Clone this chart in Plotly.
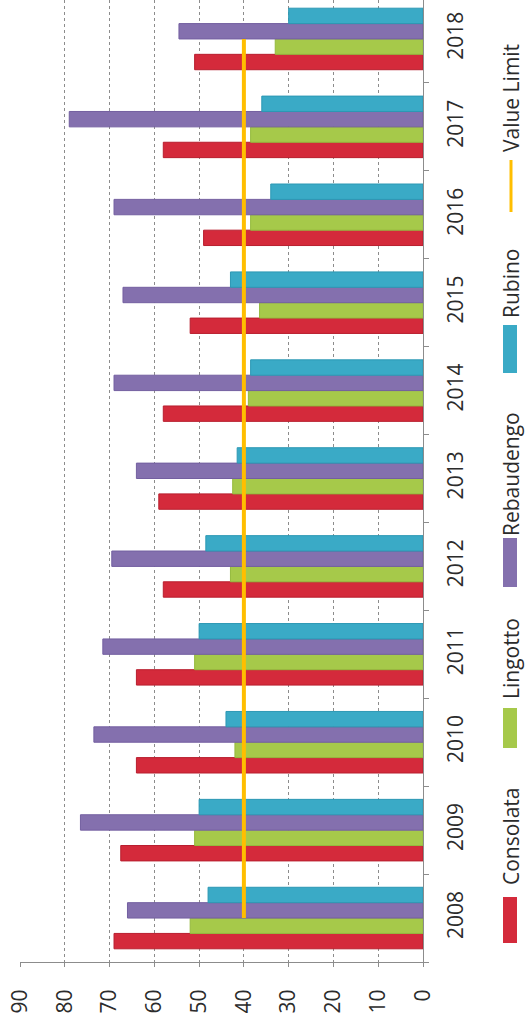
import plotly.graph_objects as go

years = ["2008", "2009", "2010", "2011", "2012", "2013", "2014", "2015", "2016", "2017", "2018"]
consolata = [69, 67.5, 64, 64, 58, 59, 58, 52, 49, 58, 51]
lingotto = [52, 51, 42, 51, 43, 42.5, 39, 36.5, 38.5, 38.5, 33]
rebaudengo = [66, 76.5, 73.5, 71.5, 69.5, 64, 69, 67, 69, 79, 54.5]
rubino = [48, 50, 44, 50, 48.5, 41.5, 38.5, 43, 34, 36, 30]
value_limit = [40] * len(years)

value_ticks = [0, 10, 20, 30, 40, 50, 60, 70, 80, 90]

series = [
    ("Consolata", consolata, "#D42A3B", "#B81E2E"),
    ("Lingotto", lingotto, "#A6C94A", "#95BA3E"),
    ("Rebaudengo", rebaudengo, "#8470AE", "#735FA0"),
    ("Rubino", rubino, "#3AAAC6", "#2C98B4"),
]
limit_color = "#FFBE00"

W, H = 528, 1022
ML, MR, MT, MB = 20, 105, 0, 60
PW, PH = W - ML - MR, H - MT - MB

FONT = "Open Sans"
TXT = "#2b2b2b"

fig = go.Figure()
for name, vals, col, edge in series:
    fig.add_trace(go.Bar(
        y=years, x=vals, name=name, orientation="h",
        marker=dict(color=col, line=dict(color=edge, width=1)),
    ))

fig.add_trace(go.Scatter(
    y=years, x=value_limit, name="Value Limit", mode="lines",
    line=dict(color=limit_color, width=4),
))


def px(x):
    return (x - ML) / PW


def py(y):
    return (H - MB - y) / PH


# hand-built legend, rotated to read bottom-to-top
shapes = []
annotations = []
legend_items = [
    ("Consolata", "bar", series[0][2], 897, 943, 836),
    ("Lingotto", "bar", series[1][2], 708, 748, 659),
    ("Rebaudengo", "bar", series[2][2], 538, 587, 474),
    ("Rubino", "bar", series[3][2], 325, 373, 283),
    ("Value Limit", "line", limit_color, 160, 212, 98),
]
for label, kind, col, y0, y1, ty in legend_items:
    if kind == "bar":
        shapes.append(dict(type="rect", xref="paper", yref="paper",
                           x0=px(503), x1=px(517), y0=py(y1), y1=py(y0),
                           fillcolor=col, line=dict(width=0)))
    else:
        shapes.append(dict(type="line", xref="paper", yref="paper",
                           x0=px(511), x1=px(511), y0=py(y1), y1=py(y0),
                           line=dict(color=col, width=3)))
    annotations.append(dict(text=label, xref="paper", yref="paper",
                            x=px(511), y=py(ty), xanchor="center", yanchor="middle",
                            textangle=-90, showarrow=False,
                            font=dict(family=FONT, size=21, color=TXT)))

fig.update_layout(
    width=W, height=H,
    margin=dict(l=ML, r=MR, t=MT, b=MB, pad=0),
    paper_bgcolor="white", plot_bgcolor="white",
    barmode="group", bargap=0.3, bargroupgap=0,
    showlegend=False,
    shapes=shapes, annotations=annotations,
    font=dict(family=FONT, size=21, color=TXT),
)

fig.update_xaxes(
    range=[90, 0], tickvals=value_ticks, tickangle=-90,
    showgrid=True, gridcolor="#8c8c8c", gridwidth=1, griddash="dot",
    showline=True, linecolor="#8c8c8c", linewidth=1,
    ticks="outside", ticklen=4, tickcolor="#8c8c8c",
    ticklabelstandoff=14, zeroline=False,
    tickfont=dict(family=FONT, size=21, color=TXT),
)
fig.update_yaxes(
    type="category", categoryorder="array", categoryarray=years,
    range=[-0.5, 10.5 - 5 / 88], side="right", tickangle=-90,
    tickson="boundaries", ticks="outside", ticklen=5, tickcolor="#8c8c8c",
    showgrid=False, showline=True, linecolor="#8c8c8c", linewidth=1,
    ticklabelstandoff=14,
    tickfont=dict(family=FONT, size=21, color=TXT),
)

fig.write_html("out.html")
